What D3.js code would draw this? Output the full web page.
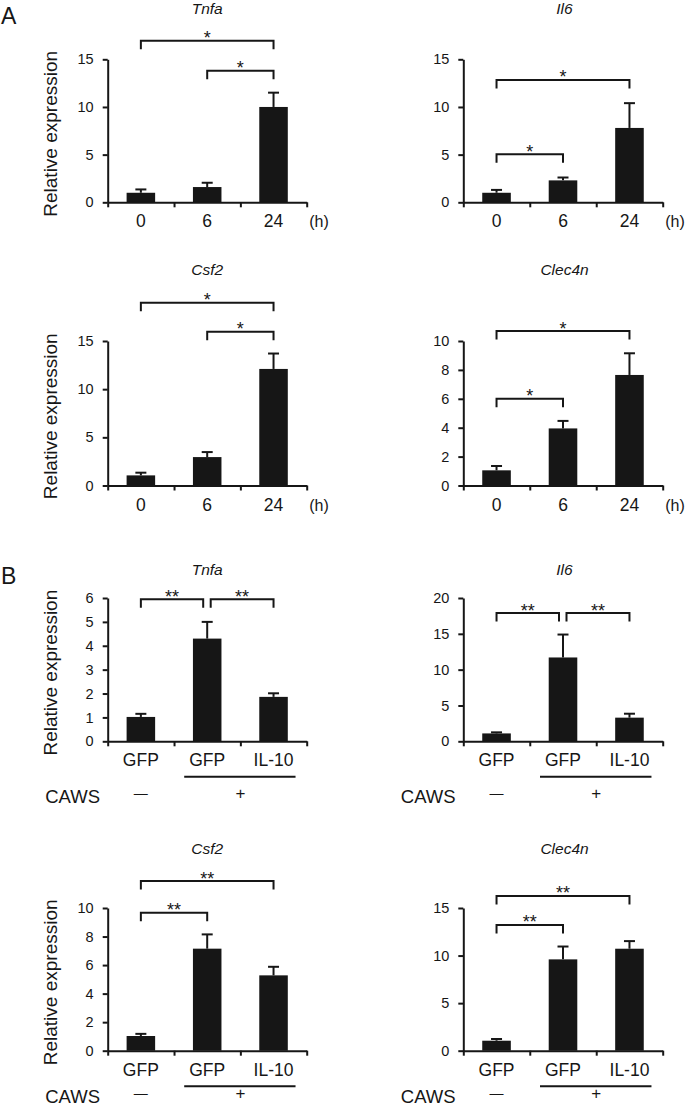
<!DOCTYPE html>
<html><head><meta charset="utf-8">
<script src="https://cdn.jsdelivr.net/npm/d3@7"></script>
<style>
body{margin:0;background:#fff}
svg{display:block}
text{font-family:"Liberation Sans",Arial,Helvetica,sans-serif;fill:#161616}
</style>
</head><body>
<svg id="chart" width="685" height="1108"></svg>
<script>
// ---------- data ----------
const timeLabels = ["0", "6", "24"];
const treatLabels = ["GFP", "GFP", "IL-10"];
const geneNames = ["Tnfa", "Il6", "Csf2", "Clec4n"];
const cawsLabels = ["CAWS", "\u2014", "+"];
const unitLabel = "(h)";
const yAxisTitle = "Relative expression";
const panelLetters = ["A", "B"];

// Panel A: time course (mean, SEM upper whisker)
const tnfaTime = [1.0, 1.6, 10.0];
const tnfaTimeErr = [0.35, 0.45, 1.5];
const il6Time = [1.0, 2.3, 7.8];
const il6TimeErr = [0.3, 0.3, 2.6];
const csf2Time = [1.05, 2.95, 12.1];
const csf2TimeErr = [0.28, 0.52, 1.6];
const clec4nTime = [1.05, 3.95, 7.65];
const clec4nTimeErr = [0.3, 0.52, 1.5];

// Panel B: GFP / GFP+CAWS / IL-10+CAWS
const tnfaTreat = [1.02, 4.3, 1.86];
const tnfaTreatErr = [0.13, 0.7, 0.15];
const il6Treat = [1.1, 11.7, 3.3];
const il6TreatErr = [0.15, 3.2, 0.55];
const csf2Treat = [1.03, 7.15, 5.28];
const csf2TreatErr = [0.15, 1.0, 0.6];
const clec4nTreat = [1.05, 9.6, 10.72];
const clec4nTreatErr = [0.18, 1.35, 0.8];

// y-axis maxima and tick steps
const yMaxTime = [15, 15, 15, 10];
const yStepTime = [5, 5, 5, 2];
const yMaxTreat = [6, 20, 10, 15];
const yStepTreat = [1, 5, 2, 5];

// significance brackets: [fromBar, toBar, label, level (data units)]
const sigTnfaTime = [[0, 2, "*", 16.95], [1, 2, "*", 13.8]];
const sigIl6Time = [[0, 2, "*", 12.83], [0, 1, "*", 5.03]];
const sigCsf2Time = [[0, 2, "*", 18.97], [1, 2, "*", 15.96]];
const sigClec4nTime = [[0, 2, "*", 10.69], [0, 1, "*", 6.0]];
const sigTnfaTreat = [[0, 1, "**", 5.95], [1, 2, "**", 5.95]];
const sigIl6Treat = [[0, 1, "**", 17.9], [1, 2, "**", 17.9]];
const sigCsf2Treat = [[0, 2, "**", 11.89], [0, 1, "**", 9.67]];
const sigClec4nTreat = [[0, 2, "**", 16.27], [0, 1, "**", 13.22]];

// ---------- layout ----------
const svg = d3.select("#chart");
const INK = "#161616";
const colX = [[107.7, 306.7], [463.3, 662.7]];
const rowY = [[59.3, 202.3], [341, 485.5], [598, 741.3], [908, 1050.7]];
const titleBase = [13.5, 275, 574.5, 854.3];
const cawsBase = {2: 803, 3: 1102.5};

const panels = [
  {row: 0, col: 0, gene: geneNames[0], v: tnfaTime, e: tnfaTimeErr, max: yMaxTime[0], step: yStepTime[0], sig: sigTnfaTime, kind: "time"},
  {row: 0, col: 1, gene: geneNames[1], v: il6Time, e: il6TimeErr, max: yMaxTime[1], step: yStepTime[1], sig: sigIl6Time, kind: "time"},
  {row: 1, col: 0, gene: geneNames[2], v: csf2Time, e: csf2TimeErr, max: yMaxTime[2], step: yStepTime[2], sig: sigCsf2Time, kind: "time"},
  {row: 1, col: 1, gene: geneNames[3], v: clec4nTime, e: clec4nTimeErr, max: yMaxTime[3], step: yStepTime[3], sig: sigClec4nTime, kind: "time"},
  {row: 2, col: 0, gene: geneNames[0], v: tnfaTreat, e: tnfaTreatErr, max: yMaxTreat[0], step: yStepTreat[0], sig: sigTnfaTreat, kind: "treat"},
  {row: 2, col: 1, gene: geneNames[1], v: il6Treat, e: il6TreatErr, max: yMaxTreat[1], step: yStepTreat[1], sig: sigIl6Treat, kind: "treat"},
  {row: 3, col: 0, gene: geneNames[2], v: csf2Treat, e: csf2TreatErr, max: yMaxTreat[2], step: yStepTreat[2], sig: sigCsf2Treat, kind: "treat"},
  {row: 3, col: 1, gene: geneNames[3], v: clec4nTreat, e: clec4nTreatErr, max: yMaxTreat[3], step: yStepTreat[3], sig: sigClec4nTreat, kind: "treat"}
];

// panel letters
svg.append("text").attr("x", 1).attr("y", 23.5).attr("font-size", 23).text(panelLetters[0]);
svg.append("text").attr("x", 1).attr("y", 584).attr("font-size", 23).text(panelLetters[1]);

panels.forEach(p => {
  const [x0, x1] = colX[p.col];
  const [yt, yb] = rowY[p.row];
  const cats = p.kind === "time" ? timeLabels : treatLabels;
  const g = svg.append("g");

  const xb = d3.scaleBand().domain(d3.range(cats.length)).range([x0, x1]).paddingInner(0).paddingOuter(0);
  const xEdge = d3.scaleLinear().domain([0, cats.length]).range([x0, x1]);
  const y = d3.scaleLinear().domain([0, p.max]).range([yb, yt]);
  const cx = i => xb(i) + xb.bandwidth() / 2;
  const bw = xb.bandwidth() * 0.43;

  // bars
  g.selectAll("rect.bar").data(p.v).join("rect")
    .attr("x", (d, i) => cx(i) - bw / 2)
    .attr("y", d => y(d))
    .attr("width", bw)
    .attr("height", d => yb - y(d))
    .attr("fill", INK);

  // error bars (upper only)
  p.v.forEach((d, i) => {
    const top = y(d + p.e[i]);
    g.append("line").attr("x1", cx(i)).attr("x2", cx(i)).attr("y1", y(d)).attr("y2", top)
      .attr("stroke", INK).attr("stroke-width", 2);
    g.append("line").attr("x1", cx(i) - 5.5).attr("x2", cx(i) + 5.5).attr("y1", top).attr("y2", top)
      .attr("stroke", INK).attr("stroke-width", 2);
  });

  // y axis
  const ya = g.append("g").attr("transform", `translate(${x0},0)`)
    .call(d3.axisLeft(y).tickValues(d3.range(0, p.max + p.step / 2, p.step))
      .tickSize(5).tickSizeOuter(0).tickPadding(9).tickFormat(d3.format("d")));
  // x axis
  const xa = g.append("g").attr("transform", `translate(0,${yb})`)
    .call(d3.axisBottom(xEdge).tickValues(d3.range(0, cats.length + 1)).tickSize(5).tickSizeOuter(0).tickFormat(""));
  [ya, xa].forEach(a => {
    a.select(".domain").attr("stroke", INK).attr("stroke-width", 2);
    a.selectAll(".tick line").attr("stroke", INK).attr("stroke-width", 2);
  });
  ya.selectAll(".tick text").attr("font-size", 14.5).attr("font-family", "Liberation Sans, Arial, sans-serif").attr("fill", INK);

  // category labels
  g.selectAll("text.cat").data(cats).join("text").attr("class", "cat")
    .attr("x", (d, i) => cx(i)).attr("y", yb + 25)
    .attr("text-anchor", "middle").attr("font-size", 17.5).text(d => d);

  if (p.kind === "time") {
    g.append("text").attr("x", x1 + 2.5).attr("y", yb + 25).attr("font-size", 16).text(unitLabel);
  } else {
    const cb = cawsBase[p.row];
    g.append("line").attr("x1", cx(1) - 23).attr("x2", cx(2) + 22)
      .attr("y1", yb + 35.5).attr("y2", yb + 35.5).attr("stroke", INK).attr("stroke-width", 2);
    g.append("text").attr("x", x0 - 62.5).attr("y", cb).attr("font-size", 18.5).text(cawsLabels[0]);
    g.append("text").attr("x", cx(0)).attr("y", cb - 5).attr("text-anchor", "middle").attr("font-size", 14).text(cawsLabels[1]);
    g.append("text").attr("x", (cx(1) + cx(2)) / 2).attr("y", cb - 4).attr("text-anchor", "middle").attr("font-size", 17).text(cawsLabels[2]);
  }

  // title
  g.append("text").attr("x", (x0 + x1) / 2 + (p.col ? 1.5 : 0)).attr("y", titleBase[p.row])
    .attr("text-anchor", "middle").attr("font-style", "italic").attr("font-size", 15.5).text(p.gene);

  // y axis title (left column only)
  if (p.col === 0) {
    g.append("text").attr("transform", `translate(57,${(yt + yb) / 2 + 3}) rotate(-90)`)
      .attr("text-anchor", "middle").attr("font-size", 19).text(yAxisTitle);
  }

  // significance brackets
  p.sig.forEach(s => {
    const [a, b, lab, lvl] = s;
    const shared = p.sig.filter(o => o !== s && o[3] === lvl);
    let xa1 = cx(a), xb1 = cx(b);
    shared.forEach(o => {
      if (o[0] === b) xb1 -= 4;
      if (o[1] === a) xa1 += 3.5;
    });
    const yl = y(lvl);
    g.append("path").attr("d", `M${xa1},${yl + 8.5}V${yl}H${xb1}V${yl + 8.5}`)
      .attr("fill", "none").attr("stroke", INK).attr("stroke-width", 2);
    g.append("text").attr("x", (xa1 + xb1) / 2).attr("y", yl + 3.5)
      .attr("text-anchor", "middle").attr("font-size", 18).text(lab);
  });
});
</script>
</body></html>
